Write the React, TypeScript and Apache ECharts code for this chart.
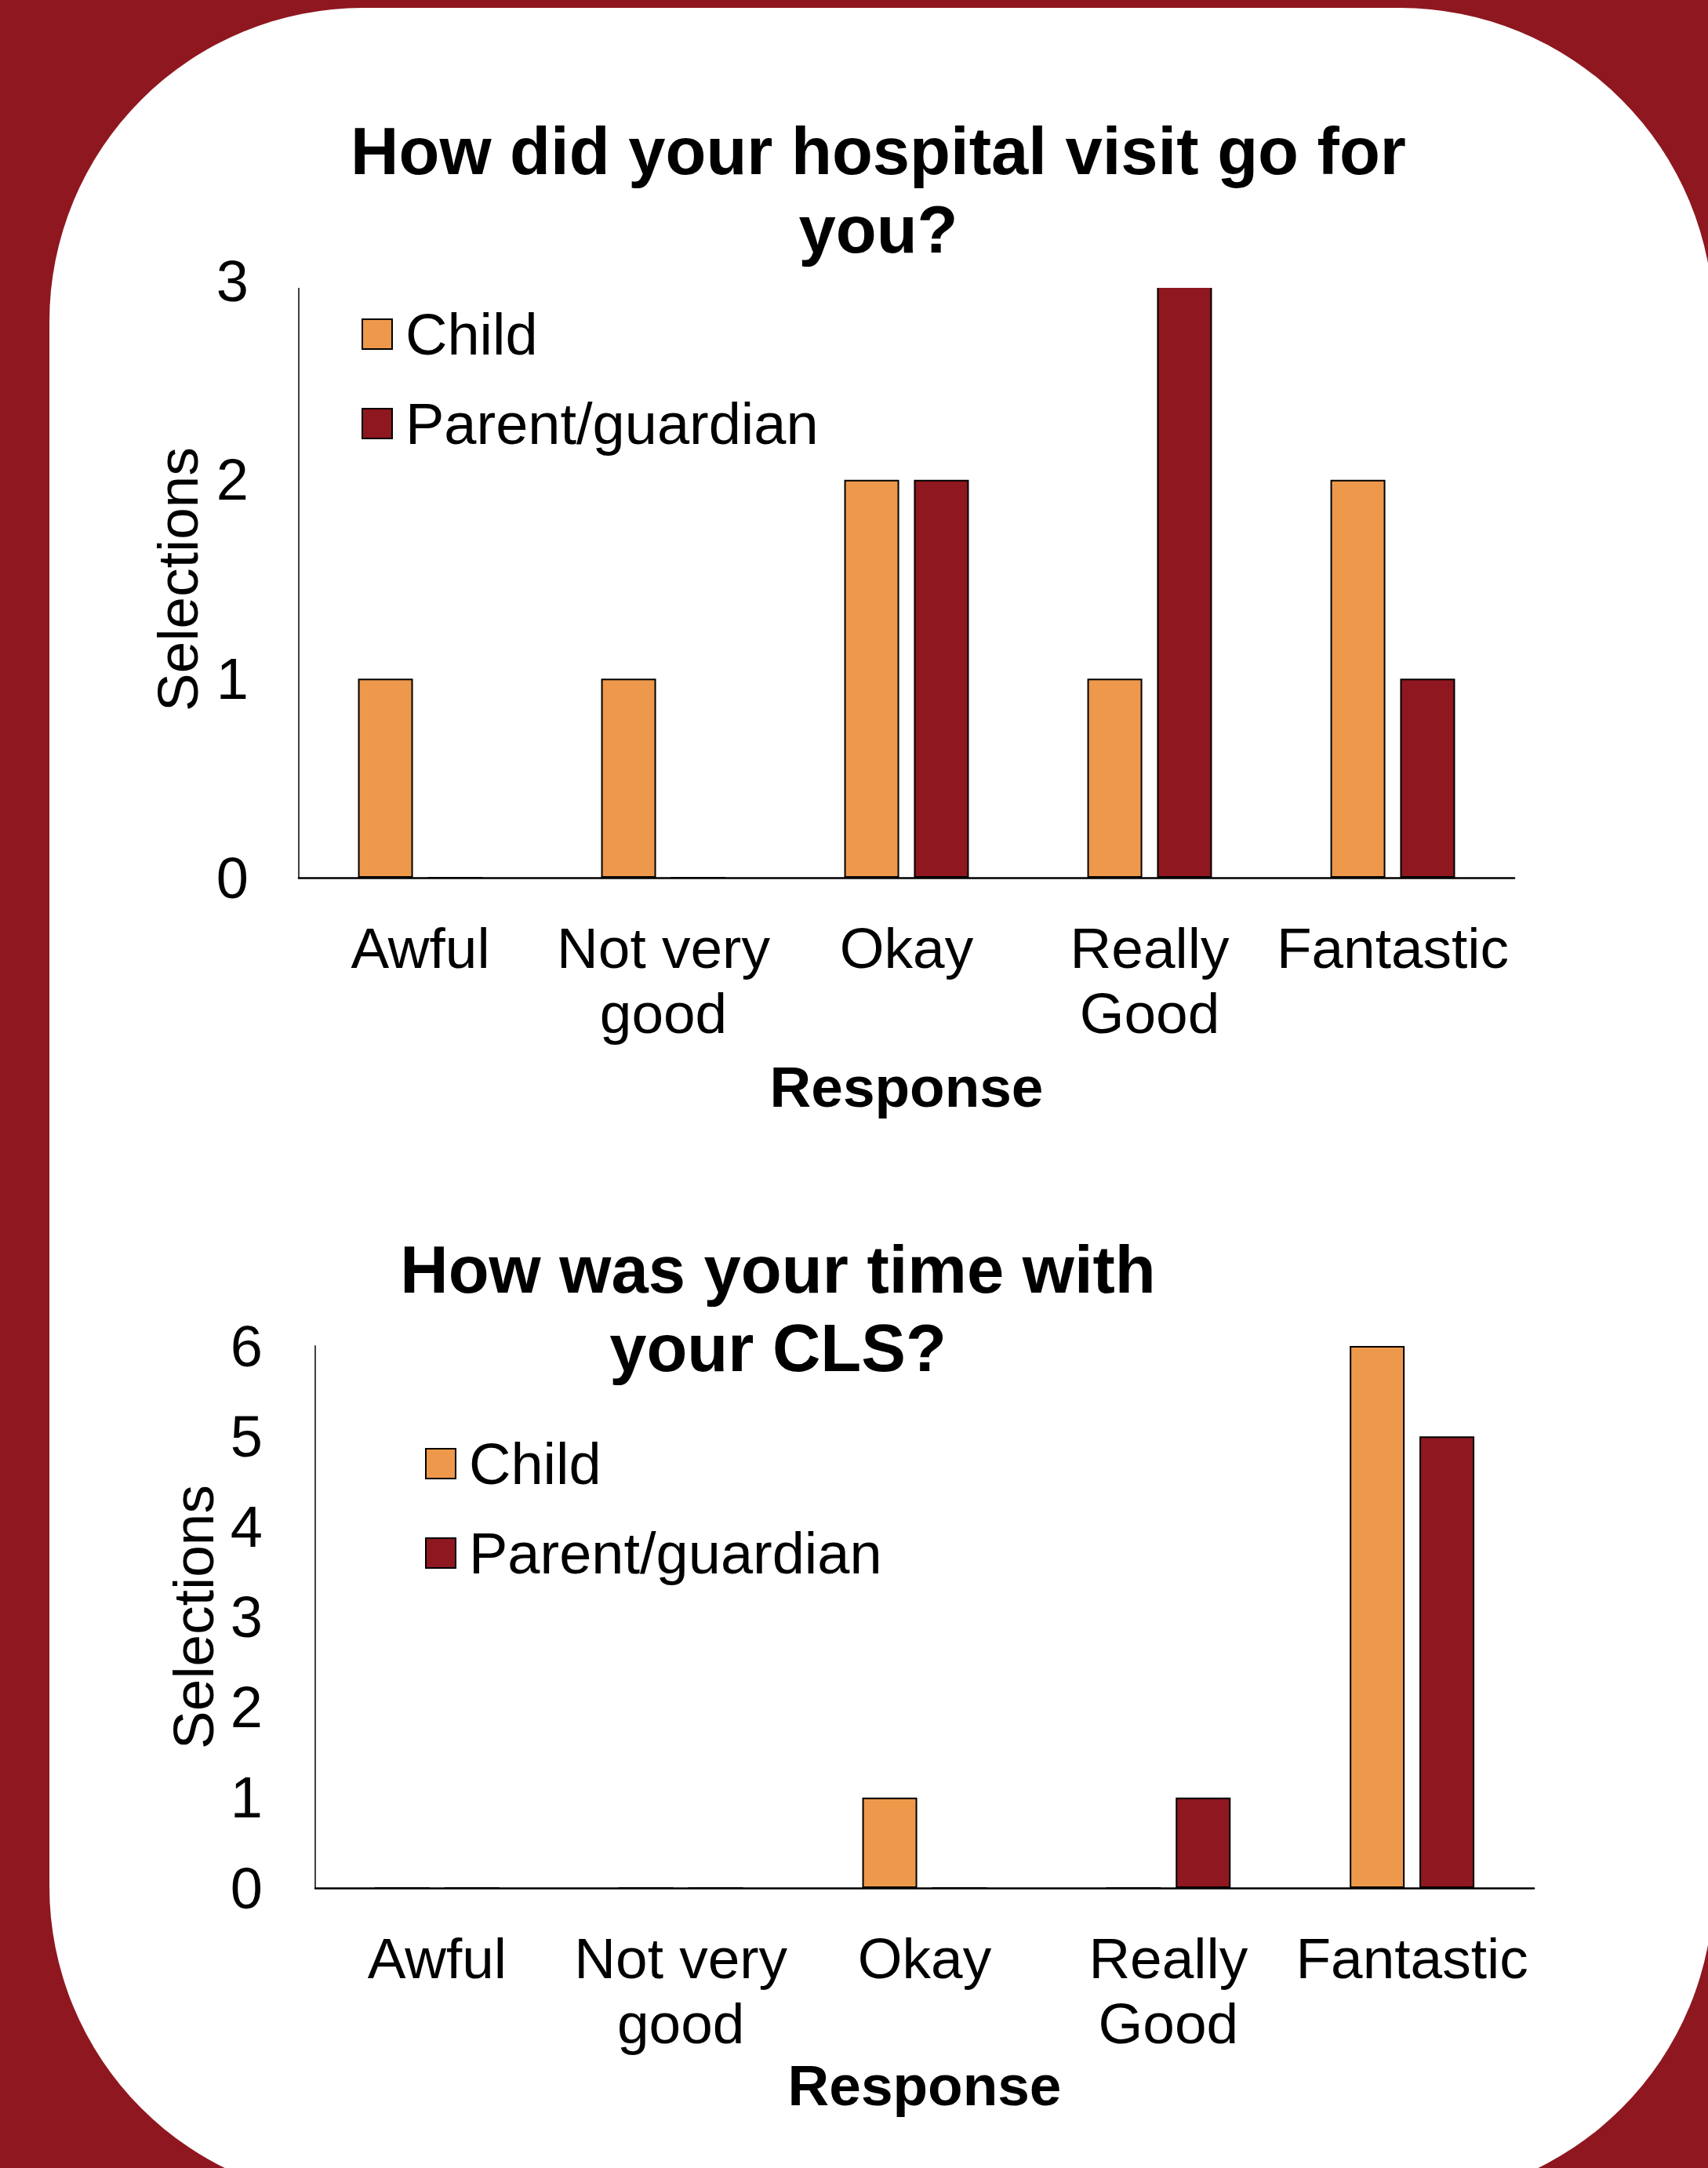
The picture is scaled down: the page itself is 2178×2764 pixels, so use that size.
import React, { useEffect, useRef } from "react";
import * as echarts from "echarts";

const categories = ["Awful", "Not very good", "Okay", "Really Good", "Fantastic"];
const visitChild = [1, 1, 2, 1, 2];
const visitParent = [0, 0, 2, 3, 1];
const clsChild = [0, 0, 1, 0, 6];
const clsParent = [0, 0, 0, 1, 5];
const visitMax = 3;
const clsMax = 6;
const seriesNames = ["Child", "Parent/guardian"];
const titles = ["How did your hospital visit go for\nyou?", "How was your time with\nyour CLS?"];

const RED = "#8F1720";
const ORANGE = "#EE984C";
const FONT = "'Liberation Sans', Arial, sans-serif";

const wrapLabel = (v: string) =>
  v === "Not very good" ? "Not very\ngood" : v === "Really Good" ? "Really\nGood" : v;

export default function App() {
  const ref = useRef<HTMLDivElement>(null);
  useEffect(() => {
    document.body.style.margin = "0";
    document.body.style.overflow = "hidden";
    const chart = echarts.init(ref.current!, null, { renderer: "svg" });
    const xAxisCommon = (gridIndex: number, nameGap: number) => ({
      type: "category",
      gridIndex,
      data: categories,
      name: "Response",
      nameLocation: "middle",
      nameGap,
      nameTextStyle: { fontFamily: FONT, fontSize: 73, fontWeight: "bold", color: "#000" },
      axisLine: { show: true, lineStyle: { color: "#000", width: 2.5 } },
      axisTick: { show: false },
      axisLabel: {
        interval: 0,
        margin: 48,
        fontFamily: FONT,
        fontSize: 73,
        lineHeight: 83,
        color: "#000",
        formatter: wrapLabel,
      },
    });
    const yAxisCommon = (gridIndex: number, max: number, margin: number, nameGap: number) => ({
      type: "value",
      gridIndex,
      min: 0,
      max,
      interval: 1,
      name: "Selections",
      nameLocation: "middle",
      nameRotate: 90,
      nameGap,
      nameTextStyle: { fontFamily: FONT, fontSize: 73, color: "#000" },
      axisLine: { show: true, lineStyle: { color: "#404040", width: 2 } },
      axisTick: { show: false },
      splitLine: { show: false },
      axisLabel: { margin, fontFamily: FONT, fontSize: 74, color: "#000" },
    });
    const barCommon = {
      type: "bar",
      barWidth: 70,
      barGap: "27%",
      itemStyle: { borderColor: "#000", borderWidth: 2 },
    };
    const legendCommon = (left: number, top: number) => ({
      orient: "vertical",
      left,
      top,
      data: seriesNames,
      itemWidth: 38,
      itemHeight: 38,
      itemGap: 40,
      icon: "rect",
      selectedMode: false,
      itemStyle: { borderColor: "#000", borderWidth: 2 },
      textStyle: {
        fontFamily: FONT,
        fontSize: 74,
        lineHeight: 74,
        color: "#000",
        padding: [0, 0, 0, 12],
      },
    });
    const titleStyle = {
      fontFamily: FONT,
      fontSize: 85,
      fontWeight: "bold",
      lineHeight: 100,
      color: "#000",
    };
    chart.setOption({
      animation: false,
      backgroundColor: RED,
      graphic: [
        {
          type: "rect",
          z: -10,
          silent: true,
          shape: { x: 63, y: 10, width: 2122, height: 2795, r: 400 },
          style: { fill: "#fff" },
        },
        {
          // the original plot area is clipped just below the top value
          type: "rect",
          z: 10,
          silent: true,
          shape: { x: 372, y: 350, width: 1570, height: 17 },
          style: { fill: "#fff" },
        },
      ],
      title: [
        { text: titles[0], left: 1115, top: 137, textAlign: "center", textStyle: titleStyle },
        { text: titles[1], left: 987, top: 1563, textAlign: "center", textStyle: titleStyle },
      ],
      legend: [legendCommon(456, 384), legendCommon(537, 1824)],
      grid: [
        { left: 381, top: 358, width: 1550, height: 761 },
        { left: 402, top: 1716, width: 1554, height: 691 },
      ],
      xAxis: [xAxisCommon(0, 230), xAxisCommon(1, 208)],
      yAxis: [yAxisCommon(0, visitMax, 64, 118), yAxisCommon(1, clsMax, 67, 118)],
      series: [
        { ...barCommon, name: seriesNames[0], xAxisIndex: 0, yAxisIndex: 0, data: visitChild, itemStyle: { ...barCommon.itemStyle, color: ORANGE } },
        { ...barCommon, name: seriesNames[1], xAxisIndex: 0, yAxisIndex: 0, data: visitParent, itemStyle: { ...barCommon.itemStyle, color: RED } },
        { ...barCommon, name: seriesNames[0], xAxisIndex: 1, yAxisIndex: 1, data: clsChild, itemStyle: { ...barCommon.itemStyle, color: ORANGE } },
        { ...barCommon, name: seriesNames[1], xAxisIndex: 1, yAxisIndex: 1, data: clsParent, itemStyle: { ...barCommon.itemStyle, color: RED } },
      ],
    });
    return () => chart.dispose();
  }, []);
  return <div ref={ref} style={{ width: 2178, height: 2764 }} />;
}
